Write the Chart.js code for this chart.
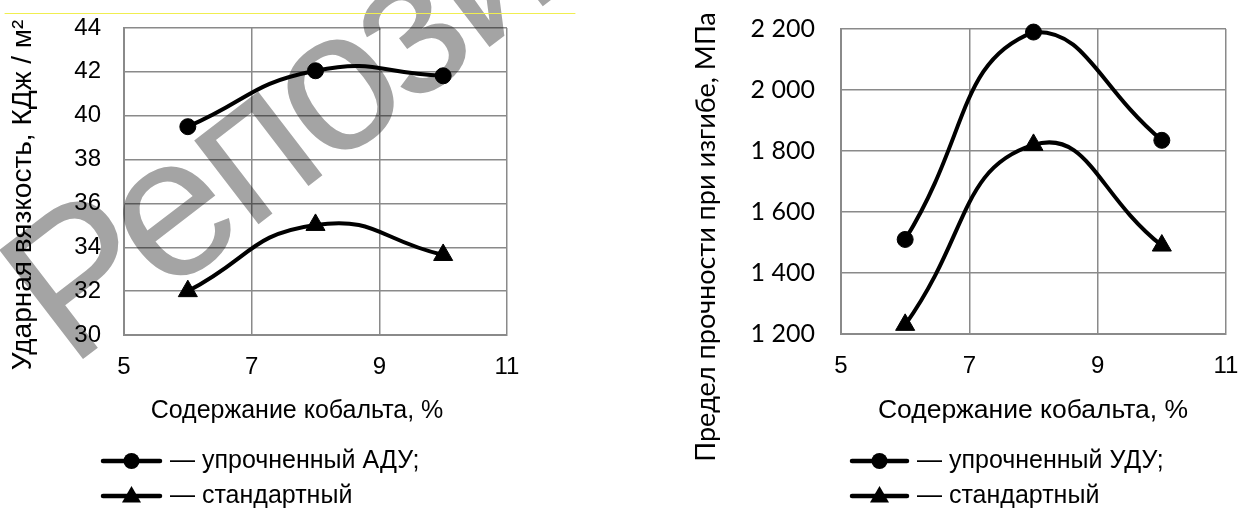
<!DOCTYPE html>
<html><head><meta charset="utf-8">
<script src="https://cdn.jsdelivr.net/npm/chart.js@4.4.0/dist/chart.umd.min.js"></script>
<style>
html,body{margin:0;padding:0;background:#fff;width:1239px;height:510px;overflow:hidden}
canvas{position:absolute;top:0}
#c1{left:0}
#c2{left:620px}
</style></head><body>
<canvas id="c1" width="620" height="510"></canvas>
<canvas id="c2" width="619" height="510"></canvas>
<script>
// ---- data ----
const cobalt = [6, 8, 10];
const impactHardened = [39.5, 42.05, 41.82];
const impactStandard = [32.0, 35.02, 33.65];
const bendHardened = [1510, 2190, 1835];
const bendStandard = [1230, 1820, 1490];
const xTicks = [5, 7, 9, 11];
const impactTicks = [30, 32, 34, 36, 38, 40, 42, 44];
const bendTicks = [1200, 1400, 1600, 1800, 2000, 2200];
// ---- texts ----
const xTitle = 'Содержание кобальта, %';
const impactTitle = 'Ударная вязкость, КДж / м²';
const bendTitle = 'Предел прочности при изгибе, МПа';
const impactLegend = ['— упрочненный АДУ;', '— стандартный'];
const bendLegend = ['— упрочненный УДУ;', '— стандартный'];
const watermarkText = 'Репозиторий БНТУ';

const ARIAL = '"Liberation Sans", Arial, sans-serif';
const CALIBRI = 'Lato, "Open Sans", sans-serif';
const GRID = '#8a8a8a';

function thousands(v) { return String(v).replace(/\B(?=(\d{3})+(?!\d))/g, ' '); }

function marker(ctx, style, r, x, y) {
  ctx.beginPath();
  if (style === 'circle') {
    ctx.arc(x, y, r, 0, Math.PI * 2);
  } else {
    for (let k = 0; k < 3; k++) {
      const a = k * 2 * Math.PI / 3;
      const px = x + Math.sin(a) * r, py = y - Math.cos(a) * r;
      if (k === 0) ctx.moveTo(px, py); else ctx.lineTo(px, py);
    }
    ctx.closePath();
  }
  ctx.fillStyle = '#000';
  ctx.fill();
}

const decor = {
  id: 'decor',
  afterDraw(chart, args, o) {
    const ctx = chart.ctx;
    ctx.save();
    ctx.fillStyle = '#000';
    // x title
    ctx.font = o.xTitleFont;
    ctx.textAlign = 'center';
    ctx.textBaseline = 'middle';
    ctx.fillText(xTitle, o.xTitleX, o.xTitleY);
    // y title
    ctx.save();
    ctx.translate(o.yTitleX, o.yTitleY);
    ctx.rotate(-Math.PI / 2);
    ctx.font = o.yTitleFont;
    ctx.fillText(o.yTitle, 0, 0);
    ctx.restore();
    // legend
    const styles = ['circle', 'triangle'];
    const radii = [8, 11];
    o.legend.forEach((txt, i) => {
      const y = o.legendRows[i];
      ctx.strokeStyle = '#000';
      ctx.lineWidth = 4.5;
      ctx.lineCap = 'round';
      ctx.beginPath();
      ctx.moveTo(o.legendX1, y);
      ctx.lineTo(o.legendX2, y);
      ctx.stroke();
      marker(ctx, styles[i], radii[i], (o.legendX1 + o.legendX2) / 2, y + (i === 1 ? 1 : 0));
      ctx.fillStyle = '#000';
      ctx.font = o.legendFont;
      ctx.textAlign = 'left';
      ctx.textBaseline = 'middle';
      ctx.fillText(txt, o.legendTextX, y);
    });
    if (o.watermark) {
      ctx.save();
      ctx.globalCompositeOperation = 'multiply';
      ctx.translate(70, 369);
      ctx.rotate(-37.5 * Math.PI / 180);
      ctx.font = '200px ' + ARIAL;
      try { ctx.letterSpacing = '-6px'; } catch (e) {}
      ctx.fillStyle = '#a4a4a4';
      ctx.textAlign = 'left';
      ctx.textBaseline = 'alphabetic';
      ctx.fillText(watermarkText, 0, 0);
      ctx.restore();
      ctx.strokeStyle = '#f0ee50';
      ctx.lineWidth = 1;
      ctx.beginPath();
      ctx.moveTo(5, 13.5);
      ctx.lineTo(575, 13.5);
      ctx.stroke();
    }
    ctx.restore();
  }
};

function makeChart(id, W, H, area, hard, std, yMin, yMax, yTickVals, yFmt, yTickFont, yTickPad, deco) {
  return new Chart(document.getElementById(id), {
    type: 'line',
    data: {
      datasets: [
        { data: cobalt.map((x, i) => ({ x, y: hard[i] })), borderColor: '#000', backgroundColor: '#000',
          borderWidth: 4, tension: 0.5, pointStyle: 'circle', pointRadius: 8, pointBorderWidth: 1,
          pointBackgroundColor: '#000', pointBorderColor: '#000', clip: false },
        { data: cobalt.map((x, i) => ({ x, y: std[i] })), borderColor: '#000', backgroundColor: '#000',
          borderWidth: 4, tension: 0.5, pointStyle: 'triangle', pointRadius: 11, pointBorderWidth: 1,
          pointBackgroundColor: '#000', pointBorderColor: '#000', clip: false }
      ]
    },
    options: {
      responsive: false, animation: false, devicePixelRatio: 1,
      layout: { padding: { left: 0, top: area.top, right: W - area.right, bottom: 0 } },
      plugins: { legend: { display: false }, tooltip: { enabled: false }, decor: deco },
      scales: {
        x: {
          type: 'linear', min: 5, max: 11,
          afterBuildTicks: s => { s.ticks = xTicks.map(v => ({ value: v })); },
          afterFit: s => { s.height = H - area.bottom; s.paddingLeft = 0; s.paddingRight = 0; },
          grid: { color: GRID, lineWidth: 1.5, drawTicks: false },
          border: { color: GRID, width: 2 },
          ticks: { font: { family: ARIAL, size: 24 }, color: '#000', padding: 18, maxRotation: 0, autoSkip: false }
        },
        y: {
          type: 'linear', min: yMin, max: yMax,
          afterBuildTicks: s => { s.ticks = yTickVals.map(v => ({ value: v })); },
          afterFit: s => { s.width = area.left; s.paddingTop = 0; s.paddingBottom = 0; },
          grid: { color: GRID, lineWidth: 1.5, drawTicks: false },
          border: { color: GRID, width: 2 },
          ticks: { font: yTickFont, color: '#000', padding: yTickPad, autoSkip: false, callback: yFmt }
        }
      }
    },
    plugins: [decor]
  });
}

makeChart('c1', 620, 510, { left: 124, right: 507, top: 28, bottom: 335 },
  impactHardened, impactStandard, 30, 44, impactTicks, v => String(v),
  { family: ARIAL, size: 24 }, 23,
  { xTitleFont: '25px ' + ARIAL, xTitleX: 297, xTitleY: 411, yTitle: impactTitle, yTitleFont: '28px ' + ARIAL,
    yTitleX: 23, yTitleY: 195, legend: impactLegend, legendRows: [461, 496],
    legendX1: 103, legendX2: 160, legendTextX: 170, legendFont: '25px ' + ARIAL, watermark: true });

makeChart('c2', 619, 510, { left: 221, right: 606, top: 29, bottom: 334 },
  bendHardened, bendStandard, 1200, 2200, bendTicks, v => thousands(v),
  { family: CALIBRI, size: 25 }, 26,
  { xTitleFont: '26.5px ' + ARIAL, xTitleX: 413, xTitleY: 411, yTitle: bendTitle, yTitleFont: '27px ' + CALIBRI,
    yTitleX: 86, yTitleY: 237, legend: bendLegend, legendRows: [461, 496],
    legendX1: 232, legendX2: 287, legendTextX: 297, legendFont: '25px ' + ARIAL, watermark: false });
</script>
</body></html>
